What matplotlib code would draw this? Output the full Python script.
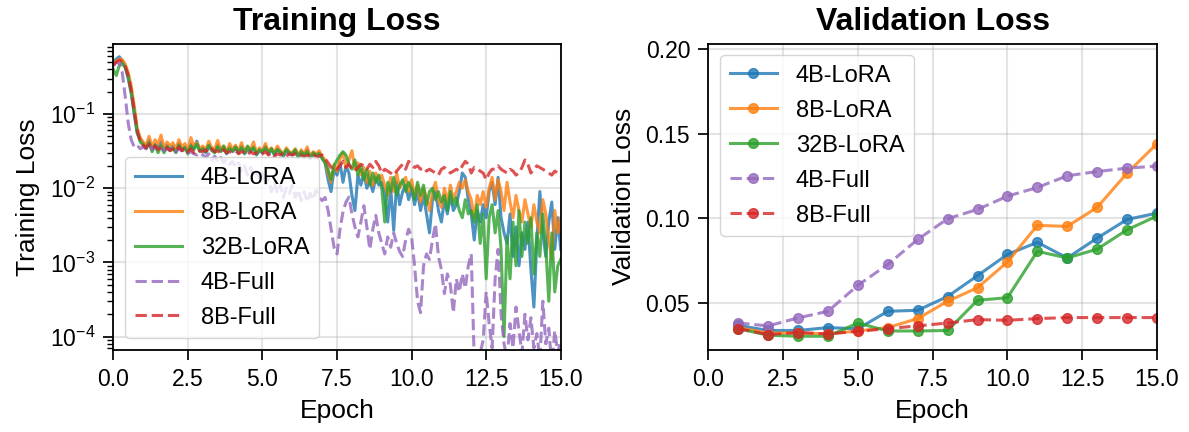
import numpy as np
import matplotlib
matplotlib.use("Agg")
import matplotlib.pyplot as plt

plt.rcParams['font.family'] = ['Liberation Sans', 'DejaVu Sans']

# ---------------- data ----------------
train_epochs = np.round(np.arange(151) * 0.1, 1)

train_4b_lora = [
    0.50, 0.55, 0.59, 0.52, 0.43, 0.30, 0.19, 0.10, 0.055, 0.045,
    0.040, 0.036, 0.044, 0.033, 0.039, 0.035, 0.042, 0.032, 0.038, 0.034,
    0.037, 0.031, 0.040, 0.033, 0.036, 0.030, 0.039, 0.034, 0.043, 0.032,
    0.035, 0.030, 0.037, 0.033, 0.031, 0.038, 0.032, 0.034, 0.029, 0.036,
    0.031, 0.035, 0.030, 0.037, 0.029, 0.033, 0.031, 0.036, 0.028, 0.032,
    0.030, 0.037, 0.029, 0.033, 0.028, 0.034, 0.030, 0.027, 0.032, 0.029,
    0.028, 0.032, 0.026, 0.030, 0.027, 0.033, 0.025, 0.029, 0.027, 0.030,
    0.026, 0.022, 0.013, 0.009, 0.018, 0.015, 0.022, 0.012, 0.020, 0.016,
    0.008, 0.005, 0.015, 0.011, 0.016, 0.010, 0.013, 0.009, 0.014, 0.011,
    0.012, 0.008, 0.0035, 0.010, 0.0027, 0.012, 0.006, 0.009, 0.011, 0.007,
    0.010, 0.006, 0.009, 0.005, 0.008, 0.0045, 0.0025, 0.007, 0.009, 0.005,
    0.0035, 0.007, 0.0045, 0.008, 0.005, 0.006, 0.009, 0.016, 0.014, 0.007,
    0.0045, 0.002, 0.005, 0.0035, 0.006, 0.004, 0.009, 0.012, 0.006, 0.014,
    0.004, 0.0025, 0.0018, 0.0045, 0.0012, 0.003, 0.0009, 0.0025, 0.0015, 0.0035,
    0.0008, 0.00025, 0.002, 0.009, 0.0025, 0.0012, 0.0035, 0.0065, 0.0015, 0.004,
    0.0015,
]

train_8b_lora = [
    0.48, 0.52, 0.55, 0.54, 0.47, 0.36, 0.24, 0.13, 0.065, 0.048,
    0.042, 0.038, 0.050, 0.036, 0.045, 0.039, 0.052, 0.035, 0.042, 0.037,
    0.041, 0.034, 0.045, 0.036, 0.040, 0.033, 0.048, 0.037, 0.041, 0.034,
    0.037, 0.033, 0.043, 0.035, 0.034, 0.044, 0.033, 0.037, 0.031, 0.040,
    0.033, 0.038, 0.032, 0.041, 0.031, 0.036, 0.033, 0.042, 0.030, 0.035,
    0.032, 0.040, 0.031, 0.035, 0.030, 0.037, 0.032, 0.029, 0.035, 0.031,
    0.030, 0.034, 0.028, 0.033, 0.029, 0.036, 0.027, 0.031, 0.029, 0.032,
    0.027, 0.024, 0.016, 0.012, 0.021, 0.017, 0.025, 0.030, 0.019, 0.024,
    0.032, 0.018, 0.022, 0.015, 0.019, 0.012, 0.017, 0.011, 0.016, 0.013,
    0.015, 0.011, 0.008, 0.014, 0.009, 0.016, 0.010, 0.012, 0.014, 0.009,
    0.013, 0.008, 0.011, 0.0065, 0.010, 0.0075, 0.005, 0.009, 0.012, 0.007,
    0.0055, 0.010, 0.0065, 0.011, 0.007, 0.009, 0.012, 0.010, 0.013, 0.009,
    0.007, 0.004, 0.008, 0.006, 0.009, 0.0055, 0.010, 0.014, 0.007, 0.013,
    0.009, 0.005, 0.012, 0.0065, 0.004, 0.008, 0.005, 0.0035, 0.007, 0.0045,
    0.003, 0.006, 0.0035, 0.0025, 0.007, 0.0045, 0.002, 0.0011, 0.005, 0.0025,
    0.004,
]

train_32b_lora = [
    0.40, 0.33, 0.45, 0.48, 0.42, 0.32, 0.20, 0.11, 0.058, 0.042,
    0.038, 0.034, 0.041, 0.031, 0.038, 0.030, 0.037, 0.030, 0.036, 0.032,
    0.034, 0.030, 0.038, 0.032, 0.035, 0.029, 0.037, 0.033, 0.039, 0.031,
    0.034, 0.031, 0.038, 0.032, 0.030, 0.036, 0.031, 0.037, 0.030, 0.034,
    0.032, 0.036, 0.031, 0.035, 0.030, 0.037, 0.032, 0.035, 0.029, 0.033,
    0.031, 0.035, 0.030, 0.034, 0.029, 0.033, 0.031, 0.028, 0.033, 0.030,
    0.029, 0.033, 0.027, 0.031, 0.028, 0.031, 0.026, 0.030, 0.028, 0.029,
    0.025, 0.022, 0.018, 0.013, 0.020, 0.024, 0.028, 0.031, 0.028, 0.021,
    0.018, 0.024, 0.015, 0.020, 0.013, 0.018, 0.011, 0.016, 0.012, 0.015,
    0.010, 0.0035, 0.012, 0.009, 0.014, 0.008, 0.011, 0.013, 0.009, 0.012,
    0.010, 0.007, 0.012, 0.008, 0.011, 0.006, 0.009, 0.010, 0.007, 0.009,
    0.0065, 0.008, 0.005, 0.009, 0.006, 0.0075, 0.005, 0.004, 0.007, 0.0045,
    0.005, 0.0035, 0.006, 0.0018, 0.0045, 0.0006, 0.004, 0.006, 0.0025, 0.005,
    0.0015, 0.0001, 0.0022, 0.0006, 0.0035, 0.0009, 0.005, 0.0012, 0.0035, 0.0018,
    0.004, 0.0007, 0.0025, 0.0012, 0.0045, 0.0016, 0.0003, 0.0025, 0.0004, 0.0009,
    0.0011,
]

train_4b_full = [
    0.45, 0.50, 0.48, 0.36, 0.17, 0.075, 0.045, 0.036, 0.038, 0.034,
    0.036, 0.034, 0.038, 0.033, 0.036, 0.034, 0.035, 0.032, 0.034, 0.033,
    0.034, 0.031, 0.034, 0.032, 0.033, 0.030, 0.031, 0.029, 0.028, 0.030,
    0.028, 0.026, 0.029, 0.024, 0.027, 0.023, 0.026, 0.022, 0.025, 0.021,
    0.023, 0.019, 0.022, 0.017, 0.020, 0.015, 0.019, 0.014, 0.017, 0.013,
    0.016, 0.011, 0.014, 0.009, 0.012, 0.0085, 0.011, 0.0075, 0.010, 0.0085,
    0.011, 0.0075, 0.0095, 0.0068, 0.009, 0.0065, 0.0085, 0.007, 0.0095, 0.0075,
    0.0068, 0.0075, 0.005, 0.0028, 0.0016, 0.0013, 0.0028, 0.0048, 0.0065, 0.0076,
    0.0045, 0.0030, 0.0022, 0.0035, 0.0058, 0.0030, 0.0015, 0.0028, 0.0043, 0.0025,
    0.0018, 0.0013, 0.0022, 0.0016, 0.0025, 0.0018, 0.0014, 0.0012, 0.0020, 0.0028,
    0.0022, 0.0009, 0.0003, 0.00021, 0.0009, 0.0013, 0.0011, 0.0020, 0.0033, 0.0012,
    0.0008, 0.00038, 0.0007, 0.0005, 0.00021, 0.0006, 0.0004, 0.0007, 0.00045, 0.0009,
    0.0013, 0.00005, 0.00003, 0.00006, 0.00009, 0.0004, 0.00015, 0.00007, 0.0006, 0.0015,
    0.0002, 0.00008, 0.00005, 0.00015, 0.00007, 0.00025, 0.00012, 0.00006, 0.0002, 0.00009,
    0.00018, 0.00007, 0.00011, 0.00005, 0.0003, 0.00008, 0.00013, 0.00004, 0.00012, 0.00006,
    0.00009,
]

train_8b_full = [
    0.45, 0.50, 0.53, 0.50, 0.44, 0.33, 0.21, 0.11, 0.060, 0.044,
    0.038, 0.035, 0.039, 0.034, 0.037, 0.033, 0.036, 0.034, 0.035, 0.032,
    0.034, 0.031, 0.036, 0.032, 0.035, 0.031, 0.034, 0.030, 0.033, 0.032,
    0.031, 0.033, 0.030, 0.034, 0.031, 0.032, 0.029, 0.033, 0.030, 0.031,
    0.030, 0.032, 0.029, 0.031, 0.030, 0.028, 0.031, 0.029, 0.030, 0.028,
    0.029, 0.031, 0.028, 0.030, 0.027, 0.029, 0.028, 0.030, 0.027, 0.029,
    0.028, 0.029, 0.027, 0.028, 0.026, 0.028, 0.027, 0.029, 0.026, 0.027,
    0.028, 0.025, 0.022, 0.019, 0.020, 0.018, 0.020, 0.023, 0.019, 0.021,
    0.018, 0.017, 0.019, 0.021, 0.020, 0.018, 0.021, 0.019, 0.023, 0.020,
    0.016, 0.018, 0.017, 0.016, 0.015, 0.017, 0.019, 0.021, 0.018, 0.023,
    0.021, 0.019, 0.020, 0.018, 0.019, 0.017, 0.018, 0.017, 0.016, 0.015,
    0.018, 0.019, 0.018, 0.016, 0.017, 0.018, 0.017, 0.020, 0.023, 0.021,
    0.016, 0.019, 0.018, 0.017, 0.016, 0.013, 0.016, 0.018, 0.018, 0.020,
    0.018, 0.017, 0.016, 0.018, 0.017, 0.015, 0.016, 0.019, 0.024, 0.021,
    0.016, 0.018, 0.020, 0.019, 0.018, 0.017, 0.016, 0.015, 0.017, 0.016,
    0.0145,
]

val_epochs = [1, 2, 3, 4, 5, 6, 7, 8, 9, 10, 11, 12, 13, 14, 15]
val_4b_lora = [0.037, 0.034, 0.034, 0.0357, 0.035, 0.0453, 0.0459, 0.054, 0.0663,
               0.0788, 0.0859, 0.0767, 0.0884, 0.0994, 0.1031]
val_8b_lora = [0.0357, 0.0325, 0.0325, 0.032, 0.0337, 0.0357, 0.041, 0.0512, 0.0592,
               0.0743, 0.0959, 0.0953, 0.1065, 0.1267, 0.144]
val_32b_lora = [0.0351, 0.0312, 0.0306, 0.0306, 0.0384, 0.0337, 0.0337, 0.034, 0.0518,
                0.0533, 0.0806, 0.0767, 0.0819, 0.0933, 0.1014]
val_4b_full = [0.0384, 0.0367, 0.0414, 0.0453, 0.0606, 0.0729, 0.0876, 0.0998, 0.1053,
               0.1131, 0.1182, 0.1251, 0.1276, 0.1296, 0.1308]
val_8b_full = [0.0351, 0.0316, 0.0328, 0.032, 0.0335, 0.0351, 0.0367, 0.0384, 0.0404,
               0.040, 0.041, 0.0416, 0.0416, 0.0416, 0.0416]

labels = ['4B-LoRA', '8B-LoRA', '32B-LoRA', '4B-Full', '8B-Full']
colors = ['#1f77b4', '#ff7f0e', '#2ca02c', '#9467bd', '#d62728']
styles = ['-', '-', '-', '--', '--']

# ---------------- figure ----------------
fig = plt.figure(figsize=(11.89, 4.32), dpi=100)
ax1 = fig.add_axes([0.0953, 0.1898, 0.3763, 0.7095])
ax2 = fig.add_axes([0.5957, 0.1898, 0.3774, 0.7095])

TICK = 16.5
LAB = 19
TITLE = 23
LEG = 17

train_series = [train_4b_lora, train_8b_lora, train_32b_lora, train_4b_full, train_8b_full]
for y, lab, c, ls in zip(train_series, labels, colors, styles):
    ax1.plot(train_epochs, y, ls, color=c, lw=2.2, alpha=0.8, label=lab)
ax1.set_yscale('log')
ax1.set_xlim(0, 15)
ax1.set_ylim(6.6e-5, 0.89)
ax1.set_xlabel('Epoch', fontsize=LAB, labelpad=6)
ax1.set_ylabel('Training Loss', fontsize=LAB, labelpad=7)
ax1.set_title('Training Loss', fontsize=TITLE, fontweight='bold', pad=10)
ax1.legend(loc='lower left', fontsize=LEG, labelspacing=0.55)

val_series = [val_4b_lora, val_8b_lora, val_32b_lora, val_4b_full, val_8b_full]
for y, lab, c, ls in zip(val_series, labels, colors, styles):
    ax2.plot(val_epochs, y, ls, color=c, lw=2.2, alpha=0.8, marker='o', ms=7, label=lab)
ax2.set_xlim(0, 15)
ax2.set_ylim(0.0225, 0.203)
ax2.set_yticks([0.05, 0.10, 0.15, 0.20])
ax2.set_xlabel('Epoch', fontsize=LAB, labelpad=6)
ax2.set_ylabel('Validation Loss', fontsize=LAB, labelpad=7)
ax2.set_title('Validation Loss', fontsize=TITLE, fontweight='bold', pad=10)
ax2.legend(loc='upper left', fontsize=LEG, labelspacing=0.55)

for ax in (ax1, ax2):
    ax.grid(True, which='major', color='#b0b0b0', alpha=0.35, lw=1.5)
    ax.tick_params(axis='both', labelsize=TICK, width=1.25, length=7, pad=6)
    ax.tick_params(which='minor', width=1.0, length=4)
    for s in ax.spines.values():
        s.set_linewidth(1.3)
    ax.set_xticks([0, 2.5, 5, 7.5, 10, 12.5, 15])

fig.savefig('out.png', dpi=100)
